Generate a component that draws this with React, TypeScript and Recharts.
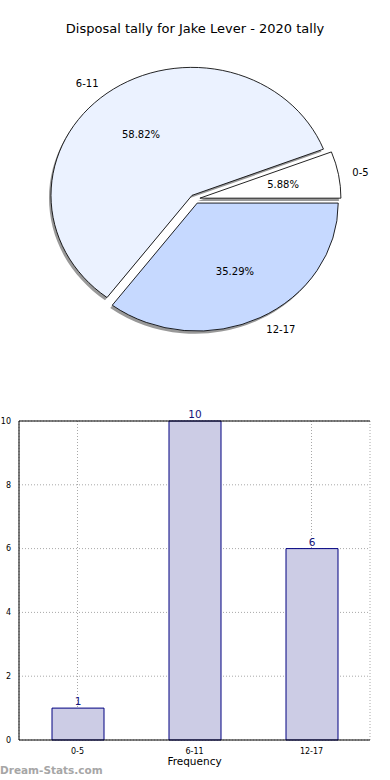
import React from 'react';
import {
  PieChart, Pie, Cell, BarChart, Bar, XAxis, YAxis, CartesianGrid, LabelList, ReferenceLine,
} from 'recharts';

const ageGroups = ['0-5', '6-11', '12-17'];
const gameCounts = [1, 10, 6];
const sliceColors = ['#ffffff', '#ebf2ff', '#c6d9ff'];
const yTicks = [0, 2, 4, 6, 8, 10];

const pieData = ageGroups.map((name, i) => ({ name, value: gameCounts[i] }));
const total = gameCounts.reduce((a, b) => a + b, 0);

// matplotlib pies are stretched a little wider than tall here
const PIE_CX = 195;
const PIE_CY = 199;
const PIE_R = 141;
const SQUASH = 128 / 141;
const EXPLODE = 5;
const RAD = Math.PI / 180;

const midAngles = gameCounts.map((v, i) => {
  const before = gameCounts.slice(0, i).reduce((a, b) => a + b, 0);
  return ((before + v / 2) / total) * 360;
});

const offsets = midAngles.map((a) => ({
  dx: EXPLODE * Math.cos(a * RAD),
  dy: -EXPLODE * Math.sin(a * RAD),
}));

const font = '"DejaVu Sans", sans-serif';

const makeLabel = (k: number) => (p: any) => {
  if (p.index !== k) return null;
  const cos = Math.cos(-p.midAngle * RAD);
  const sin = Math.sin(-p.midAngle * RAD);
  const nx = p.cx + 1.1 * p.outerRadius * cos;
  const ny = p.cy + 1.1 * p.outerRadius * sin;
  const px = p.cx + 0.6 * p.outerRadius * cos;
  const py = p.cy + 0.6 * p.outerRadius * sin;
  return (
    <g>
      <g transform={`translate(${nx},${ny}) scale(1,${1 / SQUASH})`}>
        <text x={0} y={0} textAnchor={cos > 0 ? 'start' : 'end'} dominantBaseline="central"
          fontSize={10} fill="#000" fontFamily={font}>{p.name}</text>
      </g>
      <g transform={`translate(${px},${py}) scale(1,${1 / SQUASH})`}>
        <text x={0} y={0} textAnchor="middle" dominantBaseline="central"
          fontSize={10} fill="#000" fontFamily={font}>{(p.percent * 100).toFixed(2)}%</text>
      </g>
    </g>
  );
};

const App: React.FC = () => {
  return (
    <div style={{ position: 'absolute', left: 0, top: 0, width: 390, height: 780, background: '#fff', fontFamily: font, overflow: 'hidden' }}>
      <div style={{ position: 'absolute', top: 21, width: 390, textAlign: 'center', fontSize: 13, color: '#000' }}>
        Disposal tally for Jake Lever - 2020 tally
      </div>

      <div style={{ position: 'absolute', left: 0, top: 0, width: 390, height: 370, transform: `scaleY(${SQUASH})`, transformOrigin: `${PIE_CX}px ${PIE_CY}px` }}>
        <PieChart width={390} height={370} margin={{ top: 0, right: 0, bottom: 0, left: 0 }}>
          {pieData.map((_, k) => (
            <Pie key={`s${k}`} data={pieData} dataKey="value" nameKey="name"
              cx={PIE_CX + offsets[k].dx - 2} cy={PIE_CY + offsets[k].dy + 3}
              outerRadius={PIE_R} startAngle={0} endAngle={360}
              isAnimationActive={false} labelLine={false} label={false}>
              {pieData.map((d, i) => (
                <Cell key={d.name} fill={i === k ? '#999999' : 'transparent'} stroke="none" />
              ))}
            </Pie>
          ))}
          {pieData.map((_, k) => (
            <Pie key={`p${k}`} data={pieData} dataKey="value" nameKey="name"
              cx={PIE_CX + offsets[k].dx} cy={PIE_CY + offsets[k].dy}
              outerRadius={PIE_R} startAngle={0} endAngle={360}
              isAnimationActive={false} labelLine={false} label={makeLabel(k)}>
              {pieData.map((d, i) => (
                <Cell key={d.name} fill={i === k ? sliceColors[i] : 'transparent'}
                  stroke={i === k ? '#000' : 'none'} strokeWidth={0.9} />
              ))}
            </Pie>
          ))}
        </PieChart>
      </div>

      <div style={{ position: 'absolute', left: 0, top: 400 }}>
        <BarChart width={390} height={380} data={pieData} barCategoryGap={0}
          margin={{ top: 21, right: 20, bottom: 10, left: 0 }}>
          <CartesianGrid stroke="#a8a8a8" strokeDasharray="1 2" />
          <XAxis dataKey="name" height={30} axisLine={{ stroke: '#000' }} tickLine={false}
            tick={{ fill: '#000', fontSize: 8, fontFamily: font }} tickMargin={2}
            label={{ value: 'Frequency', position: 'insideBottom', offset: 5, fontSize: 10.5, fill: '#000', fontFamily: font }} />
          <YAxis width={19} domain={[0, 10]} ticks={yTicks} axisLine={{ stroke: '#000' }} tickLine={false}
            tick={{ fill: '#000', fontSize: 8, fontFamily: font }} tickMargin={2}
            label={{ value: 'Disposal Tally', angle: -90, position: 'insideLeft', dx: -26, fontSize: 10, fill: '#000', fontFamily: font }} />
          <YAxis yAxisId="right" orientation="right" width={0} tick={false} tickLine={false}
            axisLine={{ stroke: '#000' }} />
          <ReferenceLine y={10} stroke="#000" />
          <Bar dataKey="value" barSize={52} fill="#ccccE5" stroke="#000080" strokeWidth={1} isAnimationActive={false}>
            <LabelList dataKey="value" position="top" offset={3} fill="#14147a" fontSize={10.5} fontFamily={font} />
          </Bar>
        </BarChart>
      </div>

      <div style={{ position: 'absolute', left: 0, top: 764, fontSize: 10.5, fontWeight: 'bold', color: '#a6a6a6', fontFamily: '"DejaVu Sans", sans-serif' }}>
        Dream-Stats.com
      </div>
    </div>
  );
};

export default App;
